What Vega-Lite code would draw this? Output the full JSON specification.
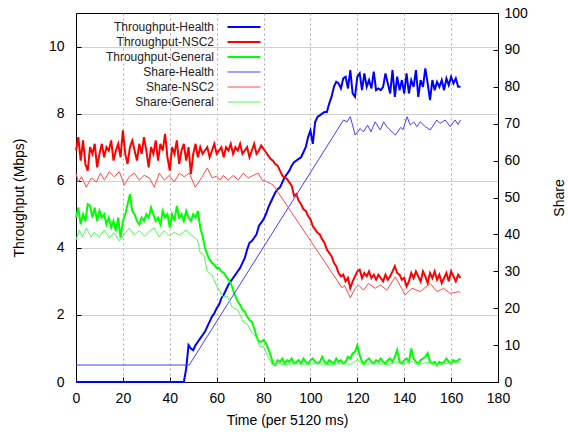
{
"$schema": "https://vega.github.io/schema/vega-lite/v6.json",
"width": 422, "height": 369,
"autosize": {"type": "none"},
"padding": {"left": 76, "top": 13, "right": 70, "bottom": 58},
"background": "white",
"config": {
 "view": {"stroke": "black", "strokeWidth": 1},
 "font": "Liberation Sans",
 "axis": {"labelFont": "Liberation Sans", "titleFont": "Liberation Sans", "labelFontSize": 14, "titleFontSize": 14, "titleFontWeight": "normal", "labelColor": "black", "titleColor": "black", "domainColor": "black", "tickColor": "black", "tickSize": -5, "labelFlush": false, "labelOverlap": false}
},
"datasets": {
"thr": [
{"t":0,"Throughput-Health":0,"Throughput-NSC2":6.9,"Throughput-General":4.9},
{"t":1,"Throughput-Health":0,"Throughput-NSC2":7.3,"Throughput-General":5.2},
{"t":2,"Throughput-Health":0,"Throughput-NSC2":6.6,"Throughput-General":4.7},
{"t":3,"Throughput-Health":0,"Throughput-NSC2":7.2,"Throughput-General":5.0},
{"t":4,"Throughput-Health":0,"Throughput-NSC2":6.5,"Throughput-General":4.8},
{"t":5,"Throughput-Health":0,"Throughput-NSC2":6.3,"Throughput-General":5.3},
{"t":6,"Throughput-Health":0,"Throughput-NSC2":7.0,"Throughput-General":5.25},
{"t":7,"Throughput-Health":0,"Throughput-NSC2":6.8,"Throughput-General":4.9},
{"t":8,"Throughput-Health":0,"Throughput-NSC2":7.1,"Throughput-General":5.2},
{"t":9,"Throughput-Health":0,"Throughput-NSC2":6.4,"Throughput-General":4.8},
{"t":10,"Throughput-Health":0,"Throughput-NSC2":6.8,"Throughput-General":5.1},
{"t":11,"Throughput-Health":0,"Throughput-NSC2":7.1,"Throughput-General":4.9},
{"t":12,"Throughput-Health":0,"Throughput-NSC2":6.7,"Throughput-General":5.0},
{"t":13,"Throughput-Health":0,"Throughput-NSC2":7.0,"Throughput-General":4.7},
{"t":14,"Throughput-Health":0,"Throughput-NSC2":6.9,"Throughput-General":4.9},
{"t":15,"Throughput-Health":0,"Throughput-NSC2":7.2,"Throughput-General":4.6},
{"t":16,"Throughput-Health":0,"Throughput-NSC2":6.6,"Throughput-General":4.8},
{"t":17,"Throughput-Health":0,"Throughput-NSC2":6.9,"Throughput-General":4.5},
{"t":18,"Throughput-Health":0,"Throughput-NSC2":7.1,"Throughput-General":4.9},
{"t":19,"Throughput-Health":0,"Throughput-NSC2":6.7,"Throughput-General":4.3},
{"t":20,"Throughput-Health":0,"Throughput-NSC2":7.5,"Throughput-General":4.8},
{"t":21,"Throughput-Health":0,"Throughput-NSC2":6.8,"Throughput-General":5.0},
{"t":22,"Throughput-Health":0,"Throughput-NSC2":6.5,"Throughput-General":5.3},
{"t":23,"Throughput-Health":0,"Throughput-NSC2":7.0,"Throughput-General":5.6},
{"t":24,"Throughput-Health":0,"Throughput-NSC2":7.2,"Throughput-General":5.1},
{"t":25,"Throughput-Health":0,"Throughput-NSC2":6.9,"Throughput-General":5.0},
{"t":26,"Throughput-Health":0,"Throughput-NSC2":6.6,"Throughput-General":4.8},
{"t":27,"Throughput-Health":0,"Throughput-NSC2":7.1,"Throughput-General":4.7},
{"t":28,"Throughput-Health":0,"Throughput-NSC2":6.8,"Throughput-General":4.9},
{"t":29,"Throughput-Health":0,"Throughput-NSC2":7.3,"Throughput-General":4.8},
{"t":30,"Throughput-Health":0,"Throughput-NSC2":6.9,"Throughput-General":5.0},
{"t":31,"Throughput-Health":0,"Throughput-NSC2":6.4,"Throughput-General":4.9},
{"t":32,"Throughput-Health":0,"Throughput-NSC2":7.0,"Throughput-General":5.2},
{"t":33,"Throughput-Health":0,"Throughput-NSC2":6.8,"Throughput-General":5.0},
{"t":34,"Throughput-Health":0,"Throughput-NSC2":7.2,"Throughput-General":4.8},
{"t":35,"Throughput-Health":0,"Throughput-NSC2":6.6,"Throughput-General":4.9},
{"t":36,"Throughput-Health":0,"Throughput-NSC2":7.1,"Throughput-General":4.7},
{"t":37,"Throughput-Health":0,"Throughput-NSC2":6.9,"Throughput-General":5.1},
{"t":38,"Throughput-Health":0,"Throughput-NSC2":7.4,"Throughput-General":4.9},
{"t":39,"Throughput-Health":0,"Throughput-NSC2":6.7,"Throughput-General":5.0},
{"t":40,"Throughput-Health":0,"Throughput-NSC2":6.3,"Throughput-General":4.6},
{"t":41,"Throughput-Health":0,"Throughput-NSC2":7.0,"Throughput-General":5.0},
{"t":42,"Throughput-Health":0,"Throughput-NSC2":6.8,"Throughput-General":4.8},
{"t":43,"Throughput-Health":0,"Throughput-NSC2":7.2,"Throughput-General":5.25},
{"t":44,"Throughput-Health":0,"Throughput-NSC2":6.5,"Throughput-General":4.9},
{"t":45,"Throughput-Health":0,"Throughput-NSC2":6.9,"Throughput-General":5.0},
{"t":46,"Throughput-Health":0,"Throughput-NSC2":7.1,"Throughput-General":4.8},
{"t":47,"Throughput-Health":0.4,"Throughput-NSC2":6.6,"Throughput-General":5.1},
{"t":48,"Throughput-Health":1.1,"Throughput-NSC2":7.0,"Throughput-General":4.9},
{"t":49,"Throughput-Health":1.0,"Throughput-NSC2":6.2,"Throughput-General":4.8},
{"t":50,"Throughput-Health":0.95,"Throughput-NSC2":6.8,"Throughput-General":5.0},
{"t":51,"Throughput-Health":1.1,"Throughput-NSC2":7.1,"Throughput-General":4.9},
{"t":52,"Throughput-Health":1.2,"Throughput-NSC2":6.7,"Throughput-General":5.1},
{"t":53,"Throughput-Health":1.3,"Throughput-NSC2":7.0,"Throughput-General":4.6},
{"t":54,"Throughput-Health":1.4,"Throughput-NSC2":6.8,"Throughput-General":4.35},
{"t":55,"Throughput-Health":1.5,"Throughput-NSC2":6.9,"Throughput-General":4.0},
{"t":56,"Throughput-Health":1.65,"Throughput-NSC2":7.0,"Throughput-General":3.8},
{"t":57,"Throughput-Health":1.8,"Throughput-NSC2":6.7,"Throughput-General":3.65},
{"t":58,"Throughput-Health":1.95,"Throughput-NSC2":6.9,"Throughput-General":3.55},
{"t":59,"Throughput-Health":2.05,"Throughput-NSC2":7.1,"Throughput-General":3.5},
{"t":60,"Throughput-Health":2.2,"Throughput-NSC2":6.8,"Throughput-General":3.4},
{"t":61,"Throughput-Health":2.3,"Throughput-NSC2":6.9,"Throughput-General":3.4},
{"t":62,"Throughput-Health":2.5,"Throughput-NSC2":7.0,"Throughput-General":3.3},
{"t":63,"Throughput-Health":2.6,"Throughput-NSC2":6.7,"Throughput-General":3.25},
{"t":64,"Throughput-Health":2.75,"Throughput-NSC2":7.0,"Throughput-General":3.15},
{"t":65,"Throughput-Health":2.9,"Throughput-NSC2":6.9,"Throughput-General":3.05},
{"t":66,"Throughput-Health":3.0,"Throughput-NSC2":7.1,"Throughput-General":2.95},
{"t":67,"Throughput-Health":3.1,"Throughput-NSC2":6.8,"Throughput-General":2.75},
{"t":68,"Throughput-Health":3.2,"Throughput-NSC2":7.0,"Throughput-General":2.55},
{"t":69,"Throughput-Health":3.3,"Throughput-NSC2":6.9,"Throughput-General":2.4},
{"t":70,"Throughput-Health":3.4,"Throughput-NSC2":7.1,"Throughput-General":2.3},
{"t":71,"Throughput-Health":3.55,"Throughput-NSC2":6.8,"Throughput-General":2.15},
{"t":72,"Throughput-Health":3.7,"Throughput-NSC2":6.9,"Throughput-General":2.1},
{"t":73,"Throughput-Health":3.95,"Throughput-NSC2":7.0,"Throughput-General":1.95},
{"t":74,"Throughput-Health":4.15,"Throughput-NSC2":6.7,"Throughput-General":1.85},
{"t":75,"Throughput-Health":4.2,"Throughput-NSC2":6.9,"Throughput-General":1.8},
{"t":76,"Throughput-Health":4.3,"Throughput-NSC2":7.1,"Throughput-General":1.6},
{"t":77,"Throughput-Health":4.4,"Throughput-NSC2":6.8,"Throughput-General":1.35},
{"t":78,"Throughput-Health":4.65,"Throughput-NSC2":6.9,"Throughput-General":1.2},
{"t":79,"Throughput-Health":4.75,"Throughput-NSC2":7.05,"Throughput-General":1.2},
{"t":80,"Throughput-Health":4.85,"Throughput-NSC2":6.95,"Throughput-General":1.25},
{"t":81,"Throughput-Health":5.0,"Throughput-NSC2":6.85,"Throughput-General":1.15},
{"t":82,"Throughput-Health":5.2,"Throughput-NSC2":6.75,"Throughput-General":1.0},
{"t":83,"Throughput-Health":5.35,"Throughput-NSC2":6.65,"Throughput-General":0.8},
{"t":84,"Throughput-Health":5.5,"Throughput-NSC2":6.6,"Throughput-General":0.55},
{"t":85,"Throughput-Health":5.65,"Throughput-NSC2":6.5,"Throughput-General":0.5},
{"t":86,"Throughput-Health":5.75,"Throughput-NSC2":6.45,"Throughput-General":0.65},
{"t":87,"Throughput-Health":5.8,"Throughput-NSC2":6.3,"Throughput-General":0.6},
{"t":88,"Throughput-Health":5.95,"Throughput-NSC2":6.15,"Throughput-General":0.7},
{"t":89,"Throughput-Health":6.1,"Throughput-NSC2":6.1,"Throughput-General":0.55},
{"t":90,"Throughput-Health":6.2,"Throughput-NSC2":6.05,"Throughput-General":0.65},
{"t":91,"Throughput-Health":6.3,"Throughput-NSC2":5.95,"Throughput-General":0.6},
{"t":92,"Throughput-Health":6.45,"Throughput-NSC2":5.85,"Throughput-General":0.7},
{"t":93,"Throughput-Health":6.55,"Throughput-NSC2":5.55,"Throughput-General":0.55},
{"t":94,"Throughput-Health":6.6,"Throughput-NSC2":5.6,"Throughput-General":0.6},
{"t":95,"Throughput-Health":6.65,"Throughput-NSC2":5.4,"Throughput-General":0.65},
{"t":96,"Throughput-Health":6.7,"Throughput-NSC2":5.3,"Throughput-General":0.55},
{"t":97,"Throughput-Health":6.85,"Throughput-NSC2":5.15,"Throughput-General":0.7},
{"t":98,"Throughput-Health":7.0,"Throughput-NSC2":5.1,"Throughput-General":0.6},
{"t":99,"Throughput-Health":7.3,"Throughput-NSC2":4.95,"Throughput-General":0.55},
{"t":100,"Throughput-Health":7.5,"Throughput-NSC2":4.85,"Throughput-General":0.65},
{"t":101,"Throughput-Health":7.1,"Throughput-NSC2":4.65,"Throughput-General":0.7},
{"t":102,"Throughput-Health":7.75,"Throughput-NSC2":4.55,"Throughput-General":0.6},
{"t":103,"Throughput-Health":7.9,"Throughput-NSC2":4.45,"Throughput-General":0.55},
{"t":104,"Throughput-Health":7.95,"Throughput-NSC2":4.4,"Throughput-General":0.6},
{"t":105,"Throughput-Health":8.0,"Throughput-NSC2":4.25,"Throughput-General":0.75},
{"t":106,"Throughput-Health":8.05,"Throughput-NSC2":4.15,"Throughput-General":0.6},
{"t":107,"Throughput-Health":8.05,"Throughput-NSC2":3.95,"Throughput-General":0.55},
{"t":108,"Throughput-Health":8.3,"Throughput-NSC2":3.85,"Throughput-General":0.65},
{"t":109,"Throughput-Health":8.5,"Throughput-NSC2":3.75,"Throughput-General":0.6},
{"t":110,"Throughput-Health":8.8,"Throughput-NSC2":3.55,"Throughput-General":0.55},
{"t":111,"Throughput-Health":8.95,"Throughput-NSC2":3.45,"Throughput-General":0.7},
{"t":112,"Throughput-Health":8.9,"Throughput-NSC2":3.25,"Throughput-General":0.6},
{"t":113,"Throughput-Health":8.75,"Throughput-NSC2":3.15,"Throughput-General":0.65},
{"t":114,"Throughput-Health":9.05,"Throughput-NSC2":3.2,"Throughput-General":0.55},
{"t":115,"Throughput-Health":9.1,"Throughput-NSC2":3.0,"Throughput-General":0.6},
{"t":116,"Throughput-Health":8.75,"Throughput-NSC2":3.1,"Throughput-General":0.75},
{"t":117,"Throughput-Health":9.3,"Throughput-NSC2":2.8,"Throughput-General":0.7},
{"t":118,"Throughput-Health":8.6,"Throughput-NSC2":3.0,"Throughput-General":0.85},
{"t":119,"Throughput-Health":8.5,"Throughput-NSC2":3.15,"Throughput-General":0.9},
{"t":120,"Throughput-Health":9.1,"Throughput-NSC2":3.3,"Throughput-General":1.1},
{"t":121,"Throughput-Health":9.2,"Throughput-NSC2":3.35,"Throughput-General":0.8},
{"t":122,"Throughput-Health":8.7,"Throughput-NSC2":3.1,"Throughput-General":0.6},
{"t":123,"Throughput-Health":9.2,"Throughput-NSC2":3.25,"Throughput-General":0.55},
{"t":124,"Throughput-Health":8.8,"Throughput-NSC2":3.15,"Throughput-General":0.65},
{"t":125,"Throughput-Health":9.0,"Throughput-NSC2":3.3,"Throughput-General":0.7},
{"t":126,"Throughput-Health":8.75,"Throughput-NSC2":3.1,"Throughput-General":0.6},
{"t":127,"Throughput-Health":9.25,"Throughput-NSC2":3.2,"Throughput-General":0.55},
{"t":128,"Throughput-Health":8.7,"Throughput-NSC2":3.05,"Throughput-General":0.65},
{"t":129,"Throughput-Health":8.75,"Throughput-NSC2":3.2,"Throughput-General":0.6},
{"t":130,"Throughput-Health":8.7,"Throughput-NSC2":3.1,"Throughput-General":0.7},
{"t":131,"Throughput-Health":8.8,"Throughput-NSC2":3.0,"Throughput-General":0.6},
{"t":132,"Throughput-Health":9.2,"Throughput-NSC2":3.2,"Throughput-General":0.55},
{"t":133,"Throughput-Health":8.9,"Throughput-NSC2":3.05,"Throughput-General":0.65},
{"t":134,"Throughput-Health":8.6,"Throughput-NSC2":3.15,"Throughput-General":0.7},
{"t":135,"Throughput-Health":9.3,"Throughput-NSC2":3.3,"Throughput-General":0.6},
{"t":136,"Throughput-Health":8.5,"Throughput-NSC2":3.45,"Throughput-General":0.75},
{"t":137,"Throughput-Health":9.1,"Throughput-NSC2":3.25,"Throughput-General":0.95},
{"t":138,"Throughput-Health":8.7,"Throughput-NSC2":3.2,"Throughput-General":0.6},
{"t":139,"Throughput-Health":9.0,"Throughput-NSC2":3.05,"Throughput-General":0.55},
{"t":140,"Throughput-Health":8.6,"Throughput-NSC2":3.1,"Throughput-General":0.65},
{"t":141,"Throughput-Health":9.2,"Throughput-NSC2":2.85,"Throughput-General":0.7},
{"t":142,"Throughput-Health":8.6,"Throughput-NSC2":3.0,"Throughput-General":0.6},
{"t":143,"Throughput-Health":9.0,"Throughput-NSC2":3.25,"Throughput-General":1.0},
{"t":144,"Throughput-Health":8.8,"Throughput-NSC2":3.1,"Throughput-General":0.7},
{"t":145,"Throughput-Health":9.3,"Throughput-NSC2":3.3,"Throughput-General":0.6},
{"t":146,"Throughput-Health":8.5,"Throughput-NSC2":3.15,"Throughput-General":0.55},
{"t":147,"Throughput-Health":9.0,"Throughput-NSC2":3.0,"Throughput-General":0.65},
{"t":148,"Throughput-Health":8.8,"Throughput-NSC2":3.3,"Throughput-General":0.7},
{"t":149,"Throughput-Health":9.35,"Throughput-NSC2":3.15,"Throughput-General":0.75},
{"t":150,"Throughput-Health":8.9,"Throughput-NSC2":2.95,"Throughput-General":0.86},
{"t":151,"Throughput-Health":8.4,"Throughput-NSC2":3.25,"Throughput-General":0.6},
{"t":152,"Throughput-Health":9.0,"Throughput-NSC2":3.1,"Throughput-General":0.55},
{"t":153,"Throughput-Health":8.7,"Throughput-NSC2":3.3,"Throughput-General":0.6},
{"t":154,"Throughput-Health":8.95,"Throughput-NSC2":3.05,"Throughput-General":0.5},
{"t":155,"Throughput-Health":8.8,"Throughput-NSC2":3.2,"Throughput-General":0.6},
{"t":156,"Throughput-Health":9.0,"Throughput-NSC2":2.95,"Throughput-General":0.55},
{"t":157,"Throughput-Health":8.7,"Throughput-NSC2":3.1,"Throughput-General":0.6},
{"t":158,"Throughput-Health":9.05,"Throughput-NSC2":3.25,"Throughput-General":0.7},
{"t":159,"Throughput-Health":8.85,"Throughput-NSC2":3.0,"Throughput-General":0.6},
{"t":160,"Throughput-Health":9.1,"Throughput-NSC2":3.3,"Throughput-General":0.55},
{"t":161,"Throughput-Health":8.9,"Throughput-NSC2":3.15,"Throughput-General":0.65},
{"t":162,"Throughput-Health":9.05,"Throughput-NSC2":3.0,"Throughput-General":0.6},
{"t":163,"Throughput-Health":8.8,"Throughput-NSC2":3.2,"Throughput-General":0.65},
{"t":164,"Throughput-Health":8.8,"Throughput-NSC2":3.1,"Throughput-General":0.7}
],
"share": [
{"t":0,"s":"Share-Health","v":4.6},{"t":48.3,"s":"Share-Health","v":4.6},{"t":114.1,"s":"Share-Health","v":71},{"t":115.6,"s":"Share-Health","v":70.5},{"t":117,"s":"Share-Health","v":71.9},{"t":119.1,"s":"Share-Health","v":66.9},{"t":121.2,"s":"Share-Health","v":68.7},{"t":122.6,"s":"Share-Health","v":67.8},{"t":124.4,"s":"Share-Health","v":69.6},{"t":125.8,"s":"Share-Health","v":67.8},{"t":127.6,"s":"Share-Health","v":70.5},{"t":129.8,"s":"Share-Health","v":68.3},{"t":131.2,"s":"Share-Health","v":70.5},{"t":132.6,"s":"Share-Health","v":69.2},{"t":136.2,"s":"Share-Health","v":66.9},{"t":138.5,"s":"Share-Health","v":69},{"t":139.5,"s":"Share-Health","v":68.4},{"t":141.2,"s":"Share-Health","v":71.9},{"t":142.6,"s":"Share-Health","v":69.6},{"t":144,"s":"Share-Health","v":70.5},{"t":145.4,"s":"Share-Health","v":69.2},{"t":146.8,"s":"Share-Health","v":70.5},{"t":149,"s":"Share-Health","v":69.2},{"t":151.1,"s":"Share-Health","v":68.3},{"t":153.9,"s":"Share-Health","v":71},{"t":155.3,"s":"Share-Health","v":70.1},{"t":157.5,"s":"Share-Health","v":71},{"t":159.6,"s":"Share-Health","v":69.2},{"t":161.7,"s":"Share-Health","v":71},{"t":163,"s":"Share-Health","v":69.8},{"t":164,"s":"Share-Health","v":71},
{"t":0,"s":"Share-NSC2","v":56.6},{"t":1,"s":"Share-NSC2","v":54.2},{"t":2.3,"s":"Share-NSC2","v":55.6},{"t":4.4,"s":"Share-NSC2","v":52.8},{"t":6.5,"s":"Share-NSC2","v":55.3},{"t":8.7,"s":"Share-NSC2","v":54.2},{"t":10.4,"s":"Share-NSC2","v":56.6},{"t":12.1,"s":"Share-NSC2","v":54.7},{"t":14.2,"s":"Share-NSC2","v":57},{"t":16.3,"s":"Share-NSC2","v":55.6},{"t":18.5,"s":"Share-NSC2","v":57},{"t":20.6,"s":"Share-NSC2","v":53.4},{"t":22.7,"s":"Share-NSC2","v":55.6},{"t":24.9,"s":"Share-NSC2","v":56.6},{"t":27,"s":"Share-NSC2","v":54.7},{"t":29.1,"s":"Share-NSC2","v":56},{"t":31.3,"s":"Share-NSC2","v":55.3},{"t":33.4,"s":"Share-NSC2","v":52.8},{"t":35.5,"s":"Share-NSC2","v":56.6},{"t":37.7,"s":"Share-NSC2","v":54.7},{"t":39.8,"s":"Share-NSC2","v":56},{"t":41.9,"s":"Share-NSC2","v":54.2},{"t":44.1,"s":"Share-NSC2","v":56.6},{"t":46.2,"s":"Share-NSC2","v":55.6},{"t":48.3,"s":"Share-NSC2","v":56.6},{"t":50.9,"s":"Share-NSC2","v":52.8},{"t":53.5,"s":"Share-NSC2","v":55.3},{"t":56,"s":"Share-NSC2","v":58},{"t":58.1,"s":"Share-NSC2","v":55.3},{"t":60,"s":"Share-NSC2","v":55.8},{"t":61.5,"s":"Share-NSC2","v":54.7},{"t":62.8,"s":"Share-NSC2","v":56},{"t":64.9,"s":"Share-NSC2","v":54.7},{"t":67.1,"s":"Share-NSC2","v":56},{"t":69.2,"s":"Share-NSC2","v":54.7},{"t":71.3,"s":"Share-NSC2","v":56.6},{"t":73.5,"s":"Share-NSC2","v":55.3},{"t":75.6,"s":"Share-NSC2","v":56},{"t":77.7,"s":"Share-NSC2","v":56.6},{"t":79.4,"s":"Share-NSC2","v":54.7},{"t":81.6,"s":"Share-NSC2","v":54.2},{"t":84.1,"s":"Share-NSC2","v":53.4},{"t":113.5,"s":"Share-NSC2","v":25.5},{"t":114.5,"s":"Share-NSC2","v":26.2},{"t":117,"s":"Share-NSC2","v":22.8},{"t":119.1,"s":"Share-NSC2","v":25.4},{"t":120.5,"s":"Share-NSC2","v":26.3},{"t":122.6,"s":"Share-NSC2","v":24.9},{"t":124.8,"s":"Share-NSC2","v":26.7},{"t":127.6,"s":"Share-NSC2","v":25.4},{"t":129.8,"s":"Share-NSC2","v":26.3},{"t":132.6,"s":"Share-NSC2","v":24.9},{"t":136.2,"s":"Share-NSC2","v":28.5},{"t":140.4,"s":"Share-NSC2","v":23.6},{"t":143.3,"s":"Share-NSC2","v":25.4},{"t":146.8,"s":"Share-NSC2","v":24.5},{"t":151.1,"s":"Share-NSC2","v":26.7},{"t":153.9,"s":"Share-NSC2","v":24.5},{"t":156.8,"s":"Share-NSC2","v":25.4},{"t":159.6,"s":"Share-NSC2","v":24},{"t":163.2,"s":"Share-NSC2","v":24.5},{"t":164,"s":"Share-NSC2","v":24.2},
{"t":0,"s":"Share-General","v":38.5},{"t":1.4,"s":"Share-General","v":41.2},{"t":2.7,"s":"Share-General","v":39.3},{"t":4.4,"s":"Share-General","v":41.7},{"t":6.5,"s":"Share-General","v":39.3},{"t":7.8,"s":"Share-General","v":40.6},{"t":9.9,"s":"Share-General","v":39.3},{"t":12.1,"s":"Share-General","v":41.2},{"t":14.2,"s":"Share-General","v":39},{"t":16.3,"s":"Share-General","v":40.4},{"t":18.5,"s":"Share-General","v":38.2},{"t":20.6,"s":"Share-General","v":40},{"t":22.7,"s":"Share-General","v":41.7},{"t":24.9,"s":"Share-General","v":39.8},{"t":27,"s":"Share-General","v":41},{"t":29.3,"s":"Share-General","v":39.5},{"t":31.4,"s":"Share-General","v":41},{"t":33.4,"s":"Share-General","v":41.7},{"t":35.5,"s":"Share-General","v":39.3},{"t":37.6,"s":"Share-General","v":41},{"t":39.8,"s":"Share-General","v":39.6},{"t":41.9,"s":"Share-General","v":40.6},{"t":44.1,"s":"Share-General","v":39.8},{"t":47,"s":"Share-General","v":41.2},{"t":49.2,"s":"Share-General","v":39.8},{"t":51.8,"s":"Share-General","v":38.5},{"t":53,"s":"Share-General","v":35},{"t":54.5,"s":"Share-General","v":34.5},{"t":56,"s":"Share-General","v":30},{"t":58,"s":"Share-General","v":29},{"t":60.2,"s":"Share-General","v":25.7},{"t":62.9,"s":"Share-General","v":23},{"t":64.5,"s":"Share-General","v":23.3},{"t":66.6,"s":"Share-General","v":20.3},{"t":69,"s":"Share-General","v":19.5},{"t":71.3,"s":"Share-General","v":16.3},{"t":73,"s":"Share-General","v":15.8},{"t":75,"s":"Share-General","v":13.3},{"t":77,"s":"Share-General","v":12},{"t":78.5,"s":"Share-General","v":9.5},{"t":80,"s":"Share-General","v":9.6},{"t":81.5,"s":"Share-General","v":7.3},{"t":83.8,"s":"Share-General","v":4.6},{"t":86,"s":"Share-General","v":5.0},{"t":89,"s":"Share-General","v":4.7},{"t":93,"s":"Share-General","v":5.0},{"t":98,"s":"Share-General","v":4.8},{"t":103,"s":"Share-General","v":5.0},{"t":108,"s":"Share-General","v":4.7},{"t":113,"s":"Share-General","v":5.0},{"t":117,"s":"Share-General","v":4.8},{"t":120,"s":"Share-General","v":6.0},{"t":122,"s":"Share-General","v":4.8},{"t":128,"s":"Share-General","v":5.0},{"t":133,"s":"Share-General","v":4.7},{"t":137,"s":"Share-General","v":5.5},{"t":139,"s":"Share-General","v":4.8},{"t":143.4,"s":"Share-General","v":5.6},{"t":145,"s":"Share-General","v":4.8},{"t":150.2,"s":"Share-General","v":5.3},{"t":153,"s":"Share-General","v":4.7},{"t":158,"s":"Share-General","v":5.0},{"t":164,"s":"Share-General","v":5.2}
]
},
"encoding": {
 "x": {"field": "t", "type": "quantitative", "scale": {"domain": [0, 180], "nice": false, "zero": false},
   "axis": {"values": [0,20,40,60,80,100,120,140,160,180], "title": "Time (per 5120 ms)", "grid": true, "gridDash": [2,3], "gridColor": "#a8a8a8", "labelPadding": 14, "titlePadding": 8}},
 "color": {"field": "s", "type": "nominal",
   "scale": {"domain": ["Throughput-Health","Throughput-NSC2","Throughput-General","Share-Health","Share-NSC2","Share-General"],
             "range": ["#0000ff","#ff0000","#00ff00","#4040ff","#ff4a4a","#4cff4c"]},
   "legend": {"title": null, "orient": "none", "legendX": 162, "legendY": 8, "padding": 0,
     "symbolType": "stroke", "symbolSize": 1089, "symbolStrokeWidth": 2,
     "labelAlign": "right", "labelOffset": -36, "labelFont": "Liberation Sans", "labelFontSize": 12, "labelColor": "#222222", "rowPadding": 3,
     "encode": {"symbols": {"update": {"strokeWidth": {"signal": "datum.index >= 3 ? 1 : 2"}}}}}}
},
"layer": [
 {"data": {"name": "thr"},
  "transform": [{"fold": ["Throughput-Health","Throughput-NSC2","Throughput-General"], "as": ["s","v"]}],
  "mark": {"type": "line", "strokeWidth": 2},
  "encoding": {"y": {"field": "v", "type": "quantitative", "scale": {"domain": [0, 11], "nice": false},
     "axis": {"values": [0,2,4,6,8,10], "title": "Throughput (Mbps)", "grid": true, "gridColor": "#d0d0d0", "labelPadding": 17, "titlePadding": 22}}}},
 {"data": {"name": "share"},
  "mark": {"type": "line", "strokeWidth": 1},
  "encoding": {"y": {"field": "v", "type": "quantitative", "scale": {"domain": [0, 100], "nice": false},
     "axis": {"orient": "right", "values": [0,10,20,30,40,50,60,70,80,90,100], "title": "Share", "titleAngle": 270, "grid": false, "labelPadding": 11, "titlePadding": 39}}}}
],
"resolve": {"scale": {"y": "independent"}}
}
